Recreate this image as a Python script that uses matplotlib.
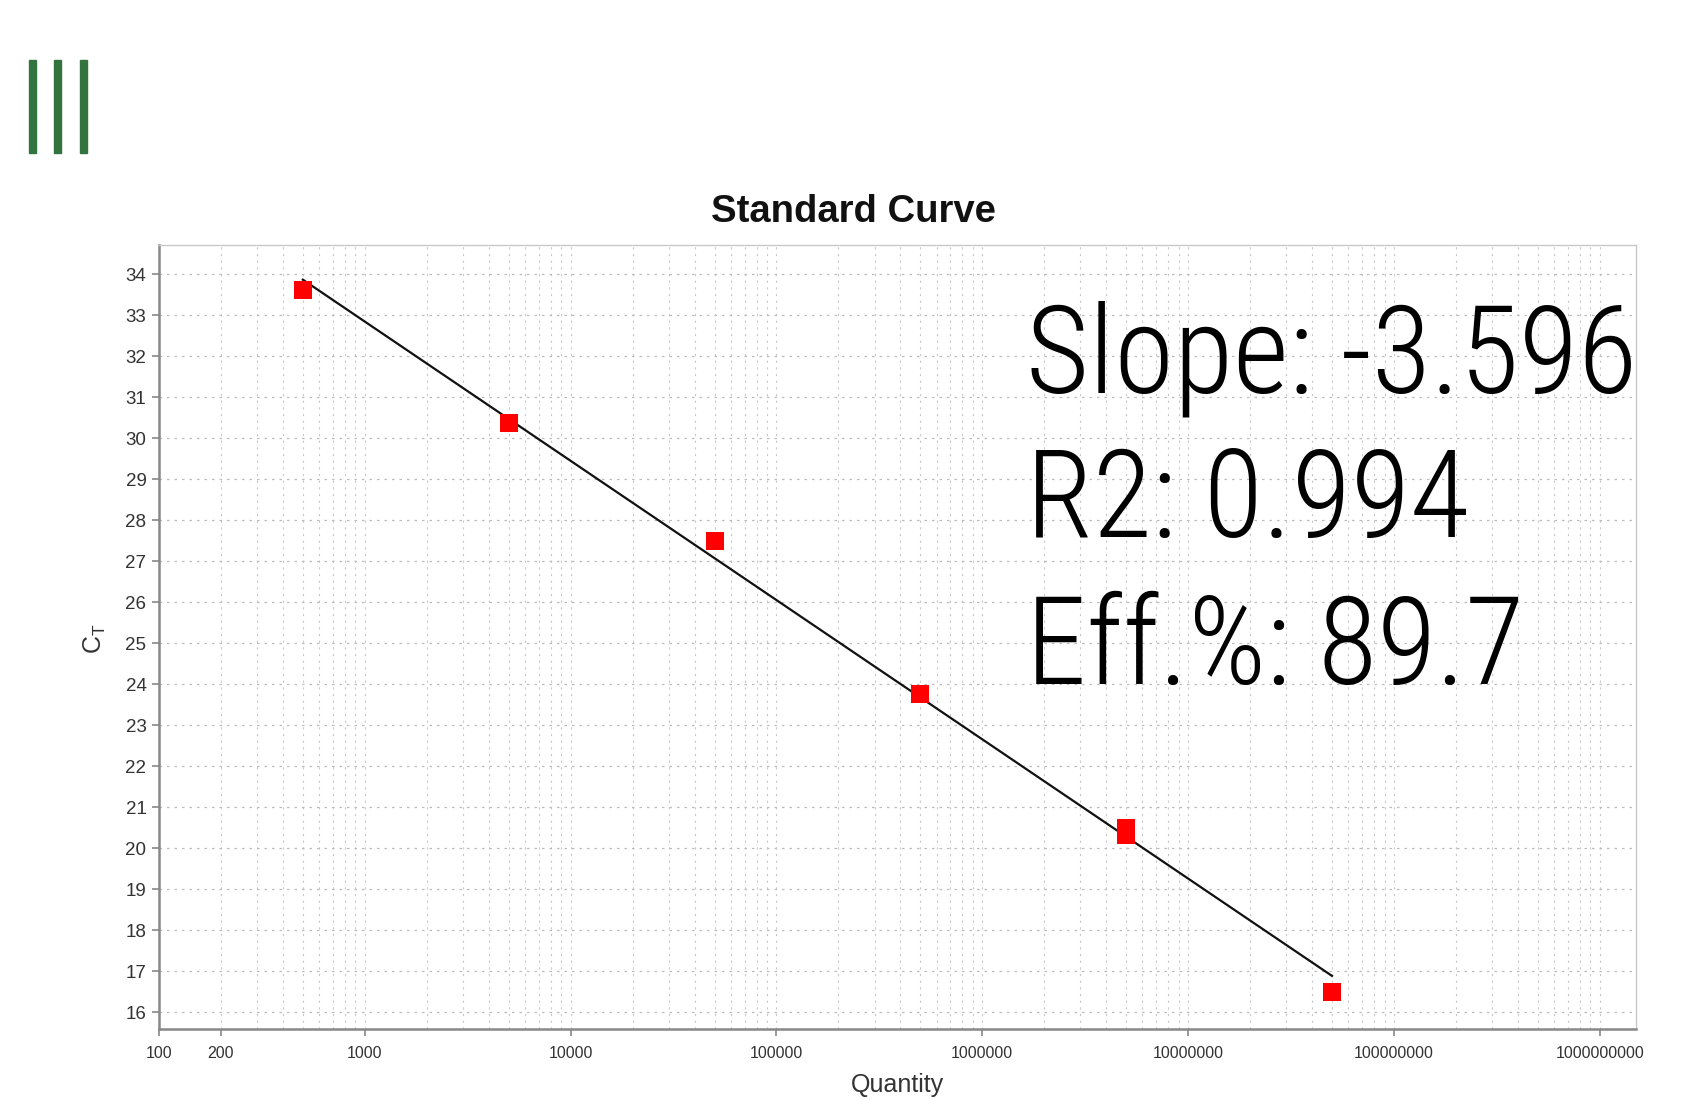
import numpy as np
import matplotlib
matplotlib.use('Agg')
import matplotlib.pyplot as plt
from matplotlib.patches import Rectangle
from matplotlib.ticker import FixedLocator, NullFormatter

# 标准曲线数据
quantity = [500, 5000, 50000, 500000, 5000000, 5000000, 50000000]
ct_values = [33.61, 30.37, 27.49, 23.76, 20.48, 20.33, 16.49]

x_ticks = [100, 200, 1000, 10000, 100000, 1000000, 10000000, 100000000, 1000000000]
x_tick_labels = [str(v) for v in x_ticks]
y_ticks = list(range(16, 35))

stat_names = ['Slope', 'R2', 'Eff.%']
stat_values = ['-3.596', '0.994', '89.7']

plt.rcParams['font.family'] = ['Liberation Sans', 'DejaVu Sans']

fig = plt.figure(figsize=(16.84, 11), dpi=100)
W, H = 1684, 1100

# 左上角绿色竖条
for x0 in [29, 54, 80]:
    fig.patches.append(Rectangle((x0 / W, 1 - 153 / H), 7 / W, 93 / H,
                                 transform=fig.transFigure, color='#33733f'))

ax = fig.add_axes([159 / W, 1 - 1029 / H, (1636 - 159) / W, (1029 - 245) / H])
ax.set_xscale('log')
ax.set_xlim(100, 1.5e9)
ax.set_ylim(15.59, 34.71)

# 拟合直线
logq = np.log10(quantity)
slope, intercept = np.polyfit(logq, ct_values, 1)
xl = np.array([min(quantity), max(quantity)])
ax.plot(xl, slope * np.log10(xl) + intercept, color='#111111', lw=1.6, zorder=3)

ax.plot(quantity, ct_values, 's', color='#ff0000', markersize=13.5,
        markeredgewidth=0, zorder=4)

# 刻度
ax.xaxis.set_major_locator(FixedLocator(x_ticks))
ax.set_xticklabels(x_tick_labels)
ax.xaxis.set_minor_locator(FixedLocator(
    [m * 10 ** d for d in range(2, 10) for m in range(2, 10)]))
ax.xaxis.set_minor_formatter(NullFormatter())
ax.set_yticks(y_ticks)
ax.tick_params(axis='x', which='major', labelsize=11.5, length=5, width=1.2,
               color='#888888', labelcolor='#333333', pad=7)
ax.tick_params(axis='x', which='minor', length=0)
ax.tick_params(axis='y', labelsize=13.5, length=5, width=1.2,
               color='#888888', labelcolor='#333333', pad=4)

ax.grid(True, which='major', axis='y', linestyle=(0, (2, 4)), color='#bbbbbb', lw=0.9)
ax.grid(True, which='both', axis='x', linestyle=(0, (2, 4)), color='#c8c8c8', lw=0.8)

for side in ['left', 'bottom']:
    ax.spines[side].set_color('#888888')
    ax.spines[side].set_linewidth(1.8)
for side in ['top', 'right']:
    ax.spines[side].set_color('#c8c8c8')
    ax.spines[side].set_linewidth(1.0)

fig.text(853 / W, 1 - 212 / H, 'Standard Curve', fontsize=27.5, fontweight='bold',
         ha='center', va='center', color='#111111')
fig.text(897 / W, 1 - 1085 / H, 'Quantity', fontsize=18, ha='center', va='center',
         color='#333333')
fig.text(95 / W, 1 - 639 / H, r'C$_\mathregular{T}$', fontsize=18, rotation=90,
         ha='center', va='center', color='#333333')

# 大号统计文字
baselines = [392, 537, 684]
for name, val, yb in zip(stat_names, stat_values, baselines):
    fig.text(1026 / W, 1 - yb / H, f'{name}: {val}', fontsize=87.5,
             family=['Roboto Condensed', 'Roboto', 'DejaVu Sans'],
             fontweight='light', va='baseline', ha='left', color='#000000')

fig.savefig('out.png', dpi=100)
